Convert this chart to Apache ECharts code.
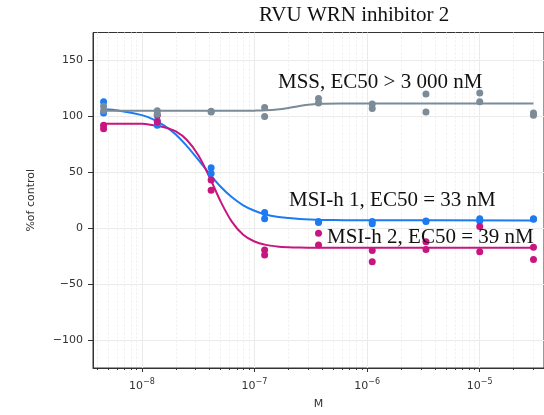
<!DOCTYPE html>
<html><head><meta charset="utf-8">
<script src="https://cdn.jsdelivr.net/npm/echarts@6/dist/echarts.min.js"></script>
<style>html,body{margin:0;padding:0;background:#fff}#c{width:544px;height:415px}</style>
</head><body><div id="c"></div>
<script>
// concentrations (M), 3-fold dilution series
const concentrations = [4.57e-9, 1.37e-8, 4.12e-8, 1.23e-7, 3.70e-7, 1.11e-6, 3.33e-6, 1.0e-5, 3.0e-5];
// % of control, two replicates per line
const mssRep1  = [109, 105, 104.5, 108, 116, 111, 120, 121, 103];
const mssRep2  = [105, 102, 104, 100, 112, 107, 104, 113, 101];
const msi1Rep1 = [113, 96, 54, 14, 6, 6, 6.5, 8.5, 8.5];
const msi1Rep2 = [103, 92, 49, 8.5, 5, 4, 6, 6.5, 8];
const msi2Rep1 = [92, 101, 43, -19.5, -4.5, -20, -12, 1.5, -17];
const msi2Rep2 = [89, 95, 34, -24, -15, -30, -19, -21, -28];
// fitted curves
const fitX     = [4.57e-9, 6.31e-9, 1e-8, 1.26e-8, 1.58e-8, 2.0e-8, 2.51e-8, 3.16e-8, 3.98e-8, 5.01e-8, 6.31e-8, 7.94e-8, 1e-7, 1.26e-7, 1.58e-7, 2.0e-7, 2.51e-7, 3.16e-7, 3.98e-7, 6.31e-7, 1e-6, 3e-5];
const mssFitY  = [105, 105, 105, 105, 105, 105, 105, 105, 105, 105, 105, 105.05, 105.13, 105.39, 106.08, 107.5, 109.3, 110.6, 111.2, 111.45, 111.5, 111.5];
const msi1FitY = [106.3, 105.1, 101.1, 97.4, 91.7, 83.8, 73.4, 61.3, 48.7, 37.1, 27.6, 20.5, 15.6, 12.3, 10.3, 9.1, 8.2, 7.7, 7.45, 7.15, 7.05, 7];
const msi2FitY = [93.5, 93.45, 93.3, 92.0, 90.3, 86.5, 78.9, 65.5, 45.8, 23.8, 5.7, -5.8, -11.9, -14.9, -16.3, -17.0, -17.3, -17.4, -17.45, -17.5, -17.5, -17.5];
// axis ticks
const xMajorTicks = [1e-8, 1e-7, 1e-6, 1e-5];
const xMinorTicks = [4e-9,5e-9,6e-9,7e-9,8e-9,9e-9,
  2e-8,3e-8,4e-8,5e-8,6e-8,7e-8,8e-8,9e-8,
  2e-7,3e-7,4e-7,5e-7,6e-7,7e-7,8e-7,9e-7,
  2e-6,3e-6,4e-6,5e-6,6e-6,7e-6,8e-6,9e-6,
  2e-5,3e-5];
const yTicks = [-100, -50, 0, 50, 100, 150];
const titleText = 'RVU WRN inhibitor 2';
const labelMSS = 'MSS, EC50 > 3 000 nM';
const labelMSI1 = 'MSI-h 1, EC50 = 33 nM';
const labelMSI2 = 'MSI-h 2, EC50 = 39 nM';

const BLUE = '#1c7bf2', PINK = '#c8157f', GRAY = '#7b8b97';
const xMin = 3.68e-9, xMax = 3.72e-5;
const zip = (xs, ys) => xs.map((x, i) => [x, ys[i]]);
const reps = (a, b) => zip(concentrations, a).concat(zip(concentrations, b));
const TXT = '#333';
const sans = 'DejaVu Sans';

const chart = echarts.init(document.getElementById('c'));
const fitLine = (ys, color) => ({type: 'line', data: zip(fitX, ys), showSymbol: false, smooth: 0.35,
  lineStyle: {color: color, width: 2}, z: 2});
chart.setOption({
  animation: false,
  grid: {left: 93, right: -2, top: 32.5, bottom: 46.5, show: true, borderColor: '#333', borderWidth: 1},
  xAxis: [{
    type: 'log', logBase: 10, min: xMin, max: xMax, position: 'bottom',
    axisLine: {show: true, onZero: false, lineStyle: {color: '#333', width: 1}},
    axisTick: {show: true, length: 4, customValues: xMajorTicks, lineStyle: {color: '#333'}},
    axisLabel: {
      customValues: xMajorTicks, margin: 10,
      formatter: v => '{b|10}{s|\u2212' + Math.abs(Math.round(Math.log10(v))) + '}',
      rich: {
        b: {fontSize: 11, fontFamily: sans, color: TXT, lineHeight: 14, verticalAlign: 'bottom'},
        s: {fontSize: 8, fontFamily: sans, color: TXT, lineHeight: 14, verticalAlign: 'top'}
      }
    },
    splitLine: {show: true, lineStyle: {color: '#eaeaea', width: 1}},
    name: 'M', nameLocation: 'middle', nameGap: 31,
    nameTextStyle: {fontSize: 11, fontFamily: sans, color: TXT}
  }, {
    type: 'log', logBase: 10, min: xMin, max: xMax, position: 'bottom',
    axisLine: {show: false, onZero: false},
    axisTick: {show: true, length: 2, customValues: xMinorTicks, lineStyle: {color: '#333'}},
    axisLabel: {show: false},
    splitLine: {show: true, lineStyle: {color: '#efefef', width: 1, type: [2, 2]}}
  }],
  yAxis: {
    type: 'value', min: -125, max: 175,
    axisLine: {show: true, onZero: false, lineStyle: {color: '#333', width: 1}},
    axisTick: {show: true, length: 5, customValues: yTicks, lineStyle: {color: '#333'}},
    axisLabel: {customValues: yTicks, margin: 10, fontSize: 11, fontFamily: sans, color: TXT,
      formatter: v => String(v).replace('-', '\u2212')},
    splitLine: {show: true, lineStyle: {color: '#ebebeb', width: 1}},
    name: '%of control', nameLocation: 'middle', nameGap: 56,
    nameTextStyle: {fontSize: 11, fontFamily: sans, color: TXT}
  },
  series: [
    fitLine(msi1FitY, BLUE),
    fitLine(msi2FitY, PINK),
    fitLine(mssFitY, GRAY),
    {type: 'scatter', data: reps(msi1Rep1, msi1Rep2), symbolSize: 7, itemStyle: {color: BLUE, opacity: 1}, z: 3},
    {type: 'scatter', data: reps(msi2Rep1, msi2Rep2), symbolSize: 7, itemStyle: {color: PINK, opacity: 1}, z: 3},
    {type: 'scatter', data: reps(mssRep1, mssRep2), symbolSize: 7, itemStyle: {color: GRAY, opacity: 1}, z: 3}
  ],
  graphic: [
    {type: 'text', x: 259, y: 15.6, z: 10, style: {text: titleText, fontSize: 21, fontFamily: 'Liberation Serif', fill: '#111', verticalAlign: 'middle'}},
    {type: 'text', x: 278, y: 82.3, z: 10, style: {text: labelMSS, fontSize: 21, fontFamily: 'Liberation Serif', fill: '#111', verticalAlign: 'middle'}},
    {type: 'text', x: 289, y: 200.7, z: 10, style: {text: labelMSI1, fontSize: 21, fontFamily: 'Liberation Serif', fill: '#111', verticalAlign: 'middle'}},
    {type: 'text', x: 327, y: 237.3, z: 10, style: {text: labelMSI2, fontSize: 21, fontFamily: 'Liberation Serif', fill: '#111', verticalAlign: 'middle'}}
  ]
});
</script></body></html>
